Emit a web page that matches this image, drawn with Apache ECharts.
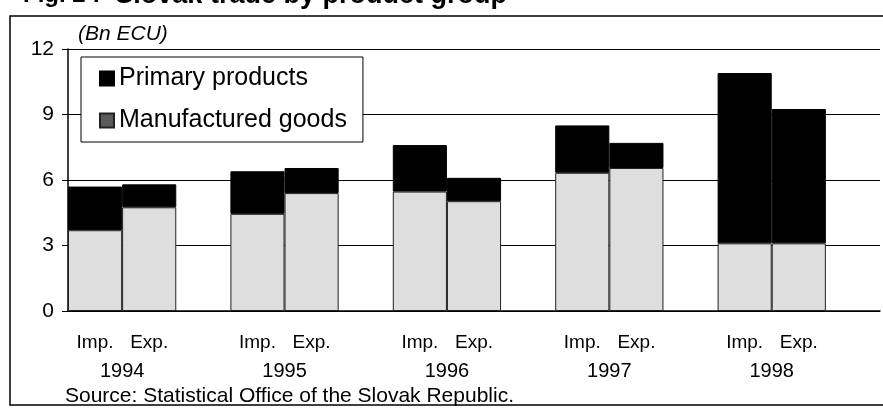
<!DOCTYPE html>
<html>
<head>
<meta charset="utf-8">
<script src="https://cdn.jsdelivr.net/npm/echarts@6/dist/echarts.min.js"></script>
<style>
  html, body { margin: 0; padding: 0; background: #fff; }
  #main { width: 883px; height: 408px; }
</style>
</head>
<body>
<div id="main"></div>
<script>
  // values in Bn ECU
  var years = ['1994', '1995', '1996', '1997', '1998'];
  var flowLabels = ['Imp.', 'Exp.'];
  var impManufactured = [3.7, 4.45, 5.47, 6.33, 3.1];
  var impPrimary = [2.0, 1.95, 2.13, 2.17, 7.8];
  var expManufactured = [4.75, 5.4, 5.03, 6.55, 3.1];
  var expPrimary = [1.05, 1.15, 1.07, 1.15, 6.15];
  var yTicks = [0, 3, 6, 9, 12];

  // each year takes three slots: Imp., Exp. and an empty gap
  var slots = [], manuData = [], primData = [];
  for (var i = 0; i < years.length; i++) {
    slots.push(flowLabels[0], flowLabels[1], '');
    manuData.push(impManufactured[i], expManufactured[i], '-');
    primData.push(impPrimary[i], expPrimary[i], '-');
  }
  // year labels sit on the boundary between Imp. and Exp.
  var yearSlots = [];
  for (var k = 0; k <= slots.length; k++) {
    yearSlots.push(k % 3 === 1 ? years[(k - 1) / 3] : '');
  }

  var font = 'Liberation Sans, Arial, sans-serif';
  var myChart = echarts.init(document.getElementById('main'));
  var option = {
    animation: false,
    textStyle: { fontFamily: font, color: '#000' },
    title: {
      text: '{n|Fig. 2 :}   {b|Slovak trade by product group}',
      left: 18,
      top: -23,
      textStyle: {
        rich: {
          n: { fontSize: 24, fontFamily: font, color: '#000' },
          b: { fontSize: 27, fontWeight: 'bold', fontFamily: font, color: '#000' }
        }
      }
    },
    graphic: [
      {
        type: 'rect',
        shape: { x: 10, y: 16, width: 900, height: 389 },
        style: { fill: 'none', stroke: '#000', lineWidth: 1.5 },
        z: -1
      },
      {
        type: 'text',
        left: 65,
        top: 386,
        style: {
          text: 'Source: Statistical Office of the Slovak Republic.',
          font: '21px ' + font,
          fill: '#000'
        }
      }
    ],
    legend: {
      data: [
        { name: 'Primary products' },
        { name: 'Manufactured goods', itemStyle: { color: '#5a5a5a' } }
      ],
      orient: 'vertical',
      left: 81,
      top: 57,
      padding: [9, 16, 9, 18],
      itemGap: 17,
      itemWidth: 14,
      itemHeight: 14,
      icon: 'rect',
      backgroundColor: '#fff',
      borderColor: '#000',
      borderWidth: 1,
      textStyle: { fontSize: 25, fontFamily: font, color: '#000' },
      z: 10
    },
    grid: { left: 68, top: 49, width: 825, bottom: 97 },
    xAxis: [
      {
        type: 'category',
        data: slots,
        axisLine: { lineStyle: { color: '#000', width: 1.5 } },
        axisTick: { show: false },
        axisLabel: { interval: 0, fontSize: 19, color: '#000', margin: 22, fontFamily: font }
      },
      {
        type: 'category',
        data: yearSlots,
        position: 'bottom',
        boundaryGap: false,
        axisLine: { show: false },
        axisTick: { show: false },
        axisLabel: { interval: 0, fontSize: 20, color: '#000', margin: 50, fontFamily: font }
      }
    ],
    yAxis: {
      type: 'value',
      min: yTicks[0],
      max: yTicks[yTicks.length - 1],
      interval: 3,
      name: '(Bn ECU)',
      nameLocation: 'end',
      nameGap: 4,
      nameTextStyle: { fontStyle: 'italic', fontSize: 21, align: 'left', padding: [0, 0, 0, 10], color: '#000' },
      axisLine: { show: true, lineStyle: { color: '#000', width: 1.5 } },
      axisTick: { show: true, length: 6, lineStyle: { color: '#000' } },
      axisLabel: { fontSize: 21, color: '#000', margin: 14, fontFamily: font },
      splitLine: { lineStyle: { color: '#000', width: 1.2 } }
    },
    series: [
      {
        name: 'Manufactured goods',
        type: 'bar',
        stack: 'trade',
        barCategoryGap: '0%',
        data: manuData,
        itemStyle: { color: '#dedede', borderColor: '#222', borderWidth: 1 }
      },
      {
        name: 'Primary products',
        type: 'bar',
        stack: 'trade',
        barCategoryGap: '0%',
        data: primData,
        itemStyle: { color: '#000', borderColor: '#000', borderWidth: 1 }
      }
    ]
  };
  myChart.setOption(option);
</script>
</body>
</html>
